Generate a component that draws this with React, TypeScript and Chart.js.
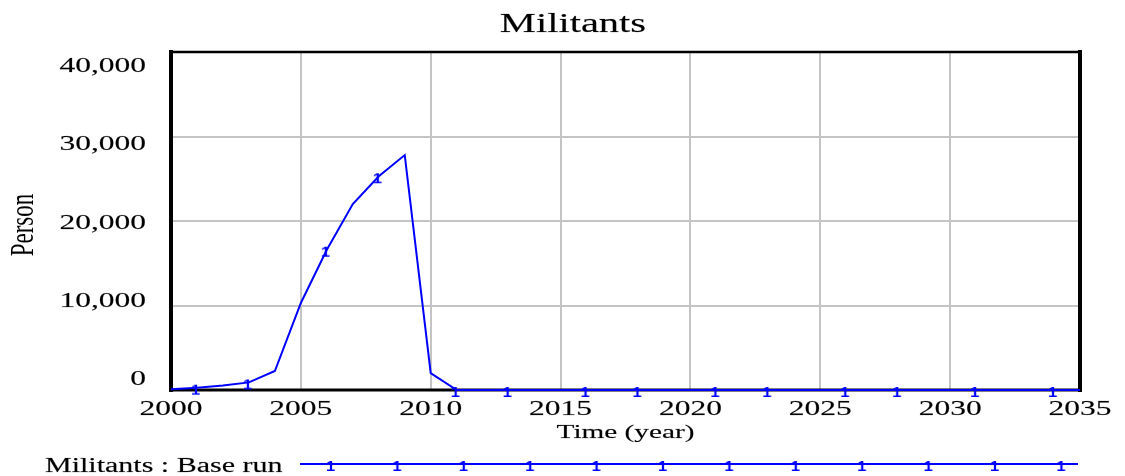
import React, { useEffect, useRef } from "react";
import { Chart, registerables } from "chart.js";

Chart.register(...registerables);

// ---- data ----
const titleText = "Militants";
const yAxisTitle = "Person";
const xAxisTitle = "Time (year)";
const seriesLabel = "Militants : Base run";

const years = [
  2000, 2001, 2002, 2003, 2004, 2005, 2006, 2007, 2008, 2009, 2010, 2011,
  2012, 2013, 2014, 2015, 2016, 2017, 2018, 2019, 2020, 2021, 2022, 2023,
  2024, 2025, 2026, 2027, 2028, 2029, 2030, 2031, 2032, 2033, 2034, 2035,
];
const militants = [
  100, 280, 520, 900, 2250, 10300, 16600, 22000, 25300, 27800, 2000, 0,
  0, 0, 0, 0, 0, 0, 0, 0, 0, 0, 0, 0,
  0, 0, 0, 0, 0, 0, 0, 0, 0, 0, 0, 0,
];
const markerYears = [2001, 2003, 2006, 2008, 2011, 2013, 2016, 2018, 2021, 2023, 2026, 2028, 2031, 2034];
const markerValues = [280, 900, 16600, 25300, 0, 0, 0, 0, 0, 0, 0, 0, 0, 0];

const xMin = 2000;
const xMax = 2035;
const xStep = 5;
const yMin = 0;
const yMax = 40000;
const yStep = 10000;

// ---- style ----
const BLUE = "#0000ff";
const SERIF = '"Liberation Serif", "Times New Roman", serif';
const SX = 1.5; // horizontal text stretch

function stretchedText(
  ctx: CanvasRenderingContext2D,
  text: string,
  x: number,
  y: number,
  size: number,
  align: CanvasTextAlign
) {
  ctx.save();
  ctx.font = `${size}px ${SERIF}`;
  ctx.fillStyle = "#000";
  ctx.strokeStyle = "rgba(0,0,0,0.35)";
  ctx.lineWidth = 0.4;
  ctx.textBaseline = "alphabetic";
  ctx.textAlign = align;
  ctx.translate(x, y);
  ctx.scale(SX, 1);
  ctx.fillText(text, 0, 0);
  ctx.strokeText(text, 0, 0);
  ctx.restore();
}

function makeMarker(): HTMLCanvasElement {
  const c = document.createElement("canvas");
  c.width = 24;
  c.height = 28;
  const g = c.getContext("2d")!;
  g.fillStyle = BLUE;
  g.font = 'bold 15px "Liberation Sans", sans-serif';
  g.textAlign = "center";
  g.textBaseline = "alphabetic";
  g.translate(12 - 1.5, 14 + 6.5);
  g.scale(1.1, 0.95);
  g.fillText("1", 0, 0);
  return c;
}

const decorPlugin = {
  id: "vensimDecor",
  beforeDatasetsDraw(chart: any) {
    const { ctx, chartArea } = chart;
    const { left, right, top, bottom } = chartArea;
    ctx.save();
    ctx.strokeStyle = "#000";
    ctx.lineCap = "square";
    ctx.lineWidth = 2.5;
    ctx.beginPath();
    ctx.moveTo(left, top);
    ctx.lineTo(right, top);
    ctx.stroke();
    ctx.lineWidth = 3;
    ctx.beginPath();
    ctx.moveTo(left, bottom);
    ctx.lineTo(right, bottom);
    ctx.stroke();
    ctx.lineWidth = 4;
    ctx.beginPath();
    ctx.moveTo(left, top);
    ctx.lineTo(left, bottom);
    ctx.moveTo(right, top);
    ctx.lineTo(right, bottom);
    ctx.stroke();
    ctx.restore();
  },
  afterDraw(chart: any) {
    const { ctx, chartArea } = chart;
    const { left, right, top, bottom } = chartArea;
    const xs = chart.scales.x;
    const ys = chart.scales.y;
    const H = bottom - top;

    // title
    stretchedText(ctx, titleText, 573, 32, 27, "center");

    // y tick labels (Vensim spreads them slightly inside the frame)
    ys.ticks.forEach((t: any) => {
      const p = ys.getPixelForValue(t.value);
      const yb = top + 20 + ((p - top) * (H - 25)) / H;
      stretchedText(ctx, Number(t.value).toLocaleString("en-US"), 146, yb, 21, "right");
    });

    // x tick labels
    xs.ticks.forEach((t: any) => {
      const p = xs.getPixelForValue(t.value);
      stretchedText(ctx, String(t.value), p, bottom + 25, 21, "center");
    });

    // x axis title
    stretchedText(ctx, xAxisTitle, (left + right) / 2, bottom + 48, 19.5, "center");

    // y axis title (rotated)
    ctx.save();
    ctx.font = `23px ${SERIF}`;
    ctx.fillStyle = "#000";
    ctx.textAlign = "center";
    ctx.textBaseline = "alphabetic";
    ctx.translate(33, (top + bottom) / 2 + 4);
    ctx.scale(SX, 1);
    ctx.rotate(-Math.PI / 2);
    ctx.fillText(yAxisTitle, 0, 0);
    ctx.restore();

    // legend
    const ly = 464;
    stretchedText(ctx, seriesLabel, 45, 472, 20, "left");
    ctx.save();
    ctx.strokeStyle = BLUE;
    ctx.lineWidth = 2;
    ctx.beginPath();
    ctx.moveTo(300, ly);
    ctx.lineTo(1078, ly);
    ctx.stroke();
    const img = chart.$marker as HTMLCanvasElement;
    if (img) {
      for (let k = 0; k < 12; k++) {
        const mx = 332 + k * 66.4;
        ctx.drawImage(img, mx - img.width / 2, ly - img.height / 2);
      }
    }
    ctx.restore();
  },
};

export default function App() {
  const ref = useRef<HTMLCanvasElement | null>(null);

  useEffect(() => {
    document.body.style.margin = "0";
    const canvas = ref.current;
    if (!canvas) return;
    const marker = makeMarker();
    const chart: any = new Chart(canvas, {
      type: "line",
      data: {
        datasets: [
          {
            label: seriesLabel,
            data: years.map((x, i) => ({ x, y: militants[i] })),
            borderColor: BLUE,
            borderWidth: 2,
            pointRadius: 0,
            tension: 0,
            fill: false,
            clip: false as any,
          },
          {
            label: seriesLabel + " markers",
            data: markerYears.map((x, i) => ({ x, y: markerValues[i] })),
            showLine: false,
            pointStyle: marker as any,
            pointRadius: 6,
            clip: false as any,
          },
        ],
      },
      options: {
        animation: false,
        responsive: false,
        devicePixelRatio: 1,
        events: [],
        layout: { padding: { left: 171, right: 45, top: 52, bottom: 86 } },
        plugins: {
          legend: { display: false },
          tooltip: { enabled: false },
          title: { display: false, text: titleText },
        },
        scales: {
          x: {
            type: "linear",
            min: xMin,
            max: xMax,
            ticks: { display: false, stepSize: xStep },
            grid: { color: "#c4c4c4", lineWidth: 2, drawTicks: false },
            border: { display: false },
            title: { display: false, text: xAxisTitle },
          },
          y: {
            type: "linear",
            min: yMin,
            max: yMax,
            ticks: { display: false, stepSize: yStep },
            grid: { color: "#c4c4c4", lineWidth: 2, drawTicks: false },
            border: { display: false },
            title: { display: false, text: yAxisTitle },
          },
        },
      },
      plugins: [decorPlugin],
    });
    chart.$marker = marker;
    chart.draw();
    return () => chart.destroy();
  }, []);

  return (
    <div style={{ width: 1125, height: 476, background: "#fff" }}>
      <canvas ref={ref} width={1125} height={476} style={{ display: "block" }} />
    </div>
  );
}
